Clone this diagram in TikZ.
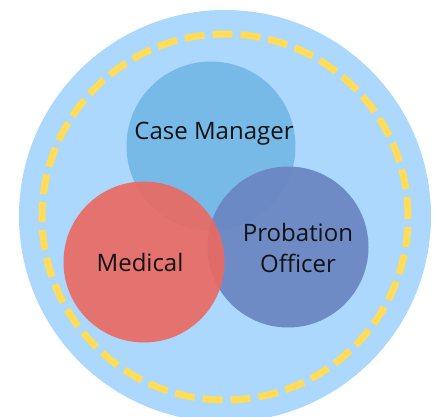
\documentclass[tikz,border=0pt]{standalone}
\usepackage{fontspec}
\setmainfont{Open Sans}
\usepackage{xcolor}
\usetikzlibrary{shapes}
\definecolor{outerblue}{HTML}{ABD8FC}
\definecolor{dashyellow}{HTML}{FFDC5A}
\definecolor{caseblue}{HTML}{74B8E6}
\definecolor{probblue}{HTML}{6A85C2}
\definecolor{medred}{HTML}{E96A62}
\tikzstyle{disc} = [circle, draw=none, inner sep=0pt, fill opacity=0.92]
\tikzstyle{caption} = [font=\fontsize{24}{31}\selectfont, text=black!93, align=center]

\begin{document}
\begin{tikzpicture}[x=1pt,y=-1pt]
\useasboundingbox (0,0) rectangle (434,417);
\node [circle, fill=outerblue, inner sep=0pt, minimum size=412pt] (outer) at (225,216) {};
\node [circle, draw=dashyellow, line width=7pt, dash pattern=on 20pt off 8pt, inner sep=0pt, minimum size=366pt] (ring) at (225,217) {};
\node [disc, fill=caseblue, minimum size=169pt] (case) at (211,146) {};
\node [disc, fill=probblue, minimum size=161pt] (prob) at (288,247) {};
\node [disc, fill=medred, minimum size=161pt] (med) at (144,262) {};
\node [caption] (casetext) at (214,134) {Case Manager};
\node [caption] (medtext) at (140,262) {Medical};
\node [caption] (probtext) at (298,248) {Probation\\Officer};
\end{tikzpicture}
\end{document}
